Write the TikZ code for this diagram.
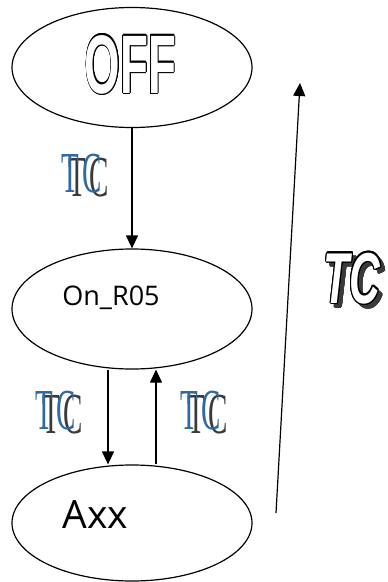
\documentclass[tikz,border=0pt]{standalone}
\usepackage{fontspec}
\setmainfont{Open Sans}
\newfontfamily\tcserif{Liberation Serif}
\newfontfamily\libsans{Liberation Sans}
\usepackage[copies]{contour}
\contournumber{16}
\usetikzlibrary{shapes.geometric,arrows.meta}
\definecolor{tcblue}{RGB}{47,106,163}
\definecolor{tcgray}{RGB}{58,58,58}
\newcommand\serifTC[1]{\tcserif\fontsize{58}{58}\selectfont\scalebox{0.5}[1]{#1}}
\begin{document}
\begin{tikzpicture}[x=1pt,y=-1pt,
  stateell/.style={draw, ellipse, line width=1.2pt, minimum width=240pt, minimum height=120pt, inner sep=0pt},
  arr/.style={line width=1.2pt, -{Triangle[length=13pt,width=12pt]}},
  lbl/.style={inner sep=0pt, anchor=base}]
\useasboundingbox (0,0) rectangle (388,582);

% states
\node[stateell] (off) at (132,67.5) {};
\node[stateell] (on) at (132,309) {};
\node[stateell, minimum height=116pt] (axx) at (132,523) {};

\node[lbl] (offtxt) at (130.5,93) {\libsans\bfseries\fontsize{83}{83}\selectfont\scalebox{0.55}[1]{\contourlength{1.4pt}\color{white}\contour{black}{OFF}}};
\node[lbl] (ontxt) at (111,305) {\fontsize{27}{27}\selectfont On\_R05};
\node[lbl] (axxtxt) at (95.5,528) {\fontsize{39}{39}\selectfont Axx};

% connectors
\draw[arr] (off.south) -- (on.north);
\draw[arr] ([xshift=-24pt]on.south) -- ([xshift=-24pt]axx.north);
\draw[arr] ([xshift=24pt]axx.north) -- ([xshift=24pt]on.south);
\coordinate (lb) at (276,513);
\coordinate (lt) at (300,83);
\draw[arr] (lb) -- (lt);

% TC labels
\begin{scope}[shift={(59,155)}]
  \node[lbl] (g1t) at (18,41) {\color{tcgray}\serifTC{T}};
  \node[lbl] (g1c) at (40.5,41) {\color{tcgray}\serifTC{C}};
  \node[lbl] (b1t) at (11,37) {\color{tcblue}\serifTC{T}};
  \node[lbl] (b1c) at (33.5,37) {\color{tcblue}\serifTC{C}};
\end{scope}
\begin{scope}[shift={(33,392)}]
  \node[lbl] (g2t) at (18,41) {\color{tcgray}\serifTC{T}};
  \node[lbl] (g2c) at (40.5,41) {\color{tcgray}\serifTC{C}};
  \node[lbl] (b2t) at (11,37) {\color{tcblue}\serifTC{T}};
  \node[lbl] (b2c) at (33.5,37) {\color{tcblue}\serifTC{C}};
\end{scope}
\begin{scope}[shift={(178,392)}]
  \node[lbl] (g3t) at (18,41) {\color{tcgray}\serifTC{T}};
  \node[lbl] (g3c) at (40.5,41) {\color{tcgray}\serifTC{C}};
  \node[lbl] (b3t) at (11,37) {\color{tcblue}\serifTC{T}};
  \node[lbl] (b3c) at (33.5,37) {\color{tcblue}\serifTC{C}};
\end{scope}

% big TC
\node[lbl] (bigtcshadow) at (356,307) {\libsans\bfseries\itshape\fontsize{72}{72}\selectfont\scalebox{0.59}[1]{\contourlength{1.3pt}\color{tcgray}\contour{tcgray}{TC}}};
\node[lbl] (bigtc) at (352,303) {\libsans\bfseries\itshape\fontsize{72}{72}\selectfont\scalebox{0.59}[1]{\contourlength{1.6pt}\color{white}\contour{black}{TC}}};
\end{tikzpicture}
\end{document}
